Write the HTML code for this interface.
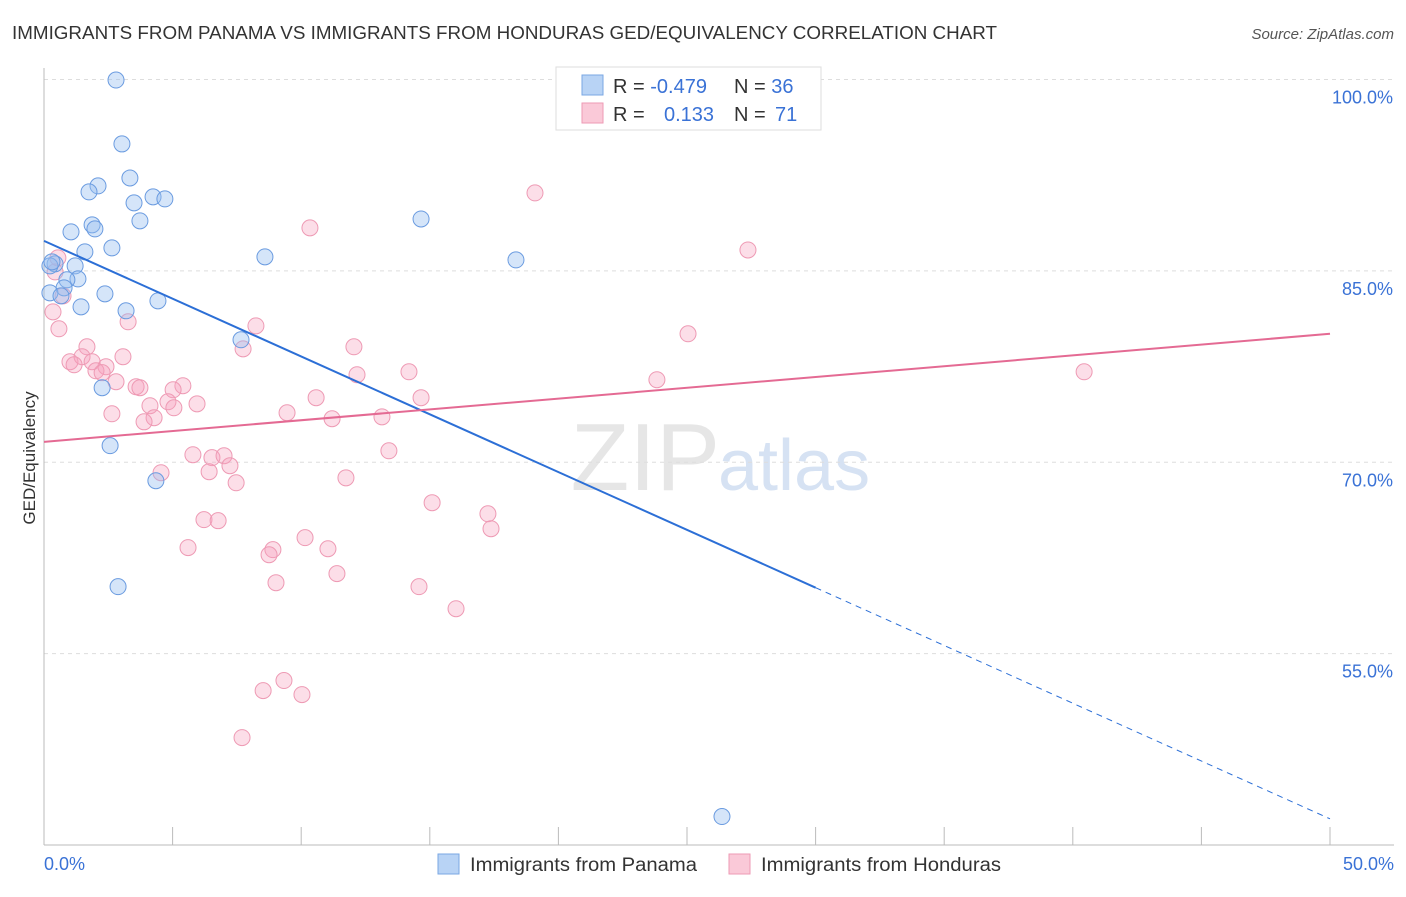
<!DOCTYPE html>
<html><head><meta charset="utf-8"><style>
body{margin:0;background:#fff;font-family:"Liberation Sans",sans-serif;}
svg text{font-family:"Liberation Sans",sans-serif;}
</style></head><body>
<svg id="chart" width="1406" height="892" xmlns="http://www.w3.org/2000/svg">
<text x="12" y="39" font-size="18" fill="#333" textLength="985" lengthAdjust="spacingAndGlyphs">IMMIGRANTS FROM PANAMA VS IMMIGRANTS FROM HONDURAS GED/EQUIVALENCY CORRELATION CHART</text>
<text x="1394" y="39" font-size="15" fill="#555" font-style="italic" text-anchor="end">Source: ZipAtlas.com</text>
<text x="35" y="458" font-size="17" fill="#333" text-anchor="middle" transform="rotate(-90 35 458)">GED/Equivalency</text>
<text x="720" y="490" font-size="96" fill="#e6e6e6" text-anchor="end" font-family="Liberation Serif">ZIP</text>
<text x="718" y="490" font-size="72" fill="#d6e2f3">atlas</text>
<g id="grid"></g><g id="axes"></g><g id="pts"></g><g id="lines"></g>
<g>
<rect x="556" y="67" width="265" height="63" fill="#fff" stroke="#ddd"/>
<rect x="582" y="75" width="21" height="20" fill="#b8d3f5" stroke="#7aa7e3"/>
<rect x="582" y="103" width="21" height="20" fill="#fac9d8" stroke="#ee9ab4"/>
<text x="613" y="93" font-size="20" fill="#333">R = <tspan fill="#3a72d6">-0.479</tspan></text>
<text x="734" y="93" font-size="20" fill="#333">N = <tspan fill="#3a72d6">36</tspan></text>
<text x="613" y="121" font-size="20" fill="#333">R = <tspan fill="#3a72d6" x="664">0.133</tspan></text>
<text x="734" y="121" font-size="20" fill="#333">N = <tspan fill="#3a72d6" x="775">71</tspan></text>
</g>
<g>
<rect x="438" y="854" width="21" height="20" fill="#b8d3f5" stroke="#7aa7e3"/>
<text x="470" y="871" font-size="19" fill="#333" textLength="227" lengthAdjust="spacingAndGlyphs">Immigrants from Panama</text>
<rect x="729" y="854" width="21" height="20" fill="#fac9d8" stroke="#ee9ab4"/>
<text x="761" y="871" font-size="19" fill="#333" textLength="240" lengthAdjust="spacingAndGlyphs">Immigrants from Honduras</text>
</g>
</svg>
<script>
const yTicks=[100,85,70,55];
const yTickLabels=["100.0%","85.0%","70.0%","55.0%"];
const xTicks=[0,5,10,15,20,25,30,35,40,45,50];
const panamaX=[2.80,3.03,3.34,2.10,1.75,4.24,4.70,3.50,3.73,1.87,1.98,1.05,14.66,2.64,1.59,8.59,18.35,0.43,1.21,0.23,1.32,0.89,0.78,0.23,2.37,0.66,4.43,1.44,3.19,7.66,2.26,2.57,4.35,2.88,26.36,0.31];
const panamaY=[99.96,94.95,92.28,91.66,91.19,90.80,90.64,90.33,88.92,88.61,88.29,88.06,89.07,86.80,86.49,86.10,85.86,85.55,85.39,85.39,84.37,84.30,83.67,83.28,83.20,83.04,82.65,82.18,81.87,79.60,75.84,71.30,68.55,60.25,42.23,85.71];
const hondX=[28.15,19.09,10.34,27.37,0.54,0.43,0.74,0.35,0.58,8.24,3.27,25.04,7.74,12.05,1.67,1.01,3.07,1.48,1.17,2.41,1.87,2.02,2.26,12.17,14.19,23.83,40.44,2.80,3.58,5.40,3.73,5.02,10.58,14.66,5.95,4.82,4.12,5.05,2.64,9.45,13.14,11.20,4.28,3.89,13.41,5.79,6.53,7.00,7.23,6.42,4.55,7.47,11.74,15.09,17.26,17.38,6.22,6.77,5.60,10.15,8.90,11.04,8.75,11.39,9.02,14.58,16.02,9.33,8.52,10.03,7.70];
const hondY=[99.96,91.11,88.37,86.64,86.02,84.92,83.04,81.79,80.46,80.69,81.01,80.07,78.89,79.05,79.05,77.88,78.27,78.27,77.64,77.49,77.88,77.17,77.02,76.86,77.09,76.47,77.09,76.31,75.92,76.00,75.84,75.68,75.06,75.06,74.58,74.74,74.43,74.27,73.80,73.88,73.56,73.41,73.49,73.17,70.90,70.59,70.36,70.51,69.73,69.26,69.18,68.39,68.78,66.83,65.96,64.79,65.50,65.42,63.31,64.09,63.15,63.22,62.75,61.27,60.56,60.25,58.52,52.89,52.10,51.79,48.42];
const panamaTrend=[87.35,42.05];
const hondTrend=[71.6,80.07];
const panamaSolidEnd=30;
const NS="http://www.w3.org/2000/svg";
const X0=44,X1=1330,Y0=79.5,Y1=845;
const xs=v=>X0+(v-0)/50*(X1-X0);
const ys=v=>Y0+(100-v)/60*(Y1-Y0);
function mk(tag,attrs,parent){const e=document.createElementNS(NS,tag);for(const k in attrs)e.setAttribute(k,attrs[k]);document.getElementById(parent).appendChild(e);return e;}
yTicks.forEach((t,i)=>{
  const g=mk('line',{x1:X0,x2:1394,y1:ys(t),y2:ys(t),stroke:'#ddd','stroke-dasharray':'4,4'},'grid');
  
  
  const l=mk('text',{x:1393,y:ys(t)+24,'font-size':18,fill:'#3a72d6','text-anchor':'end'},'grid');
  l.textContent=yTickLabels[i];
  
  
});
const ax=mk('line',{x1:X0,x2:X0,y1:68,y2:Y1,stroke:'#bbb'},'axes');


const bx=mk('line',{x1:X0,x2:1394,y1:Y1,y2:Y1,stroke:'#bbb'},'axes');


xTicks.forEach(t=>{
  const tk=mk('line',{x1:xs(t),x2:xs(t),y1:Y1,y2:Y1-18,stroke:'#bbb'},'axes');
  
  
});
const xl0=mk('text',{x:44,y:870,'font-size':18,fill:'#3a72d6'},'axes');xl0.textContent='0.0%';


const xl1=mk('text',{x:1394,y:870,'font-size':18,fill:'#3a72d6','text-anchor':'end'},'axes');xl1.textContent='50.0%';


hondX.forEach((v,i)=>{
  const c=mk('circle',{cx:xs(v),cy:ys(hondY[i]),r:8,fill:'rgba(245,160,190,0.35)',stroke:'#ee9ab4','stroke-width':1},'pts');
  
  
});
panamaX.forEach((v,i)=>{
  const c=mk('circle',{cx:xs(v),cy:ys(panamaY[i]),r:8,fill:'rgba(150,190,240,0.4)',stroke:'#6a9be0','stroke-width':1},'pts');
  
  
});
const pAt=x=>panamaTrend[0]+(panamaTrend[1]-panamaTrend[0])*x/50;
const l1=mk('line',{x1:xs(0),y1:ys(pAt(0)),x2:xs(panamaSolidEnd),y2:ys(pAt(panamaSolidEnd)),stroke:'#2c6fd6','stroke-width':2},'lines');


const l2=mk('line',{x1:xs(panamaSolidEnd),y1:ys(pAt(panamaSolidEnd)),x2:xs(50),y2:ys(pAt(50)),stroke:'#2c6fd6','stroke-width':1,'stroke-dasharray':'6,5'},'lines');


const l3=mk('line',{x1:xs(0),y1:ys(hondTrend[0]),x2:xs(50),y2:ys(hondTrend[1]),stroke:'#e46a93','stroke-width':2},'lines');


</script>
</body></html>
